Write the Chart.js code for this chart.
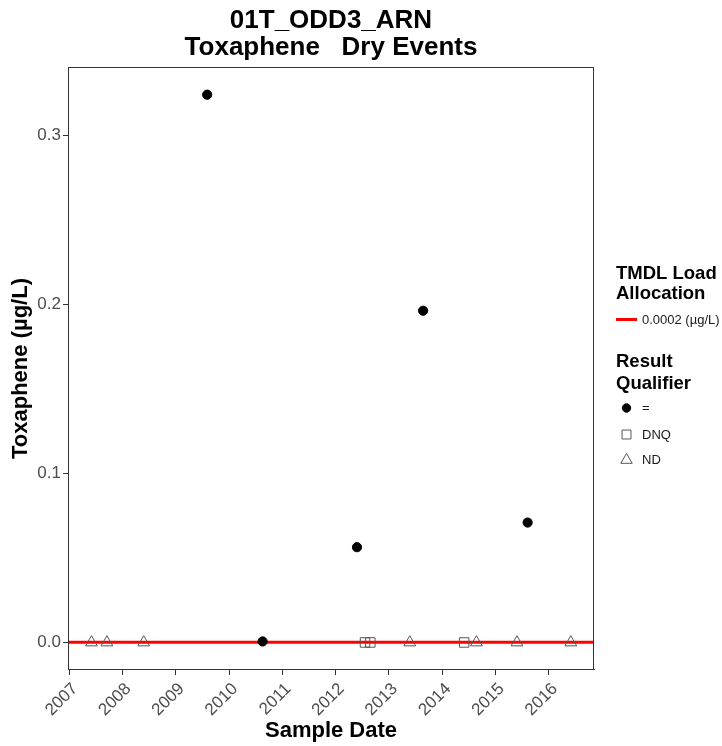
<!DOCTYPE html>
<html>
<head>
<meta charset="utf-8">
<script src="https://cdn.jsdelivr.net/npm/chart.js@4.4.1/dist/chart.umd.min.js"></script>
<style>
  html, body { margin: 0; padding: 0; background: #ffffff; }
  canvas { display: block; }
</style>
</head>
<body>
<canvas id="c" width="722" height="746"></canvas>
<script>
// ---- data ----
const titleLines = ["01T_ODD3_ARN", "Toxaphene   Dry Events"];
const xTitle = "Sample Date";
const yTitle = "Toxaphene (\u00b5g/L)";

const xTicks = [2007, 2008, 2009, 2010, 2011, 2012, 2013, 2014, 2015, 2016];
const yTicks = [0.0, 0.1, 0.2, 0.3];

// Result qualifier "=" (detected)
const eqDates  = [2009.59, 2010.63, 2012.40, 2013.64, 2015.60];
const eqValues = [0.3243, 0.0006, 0.0564, 0.1964, 0.0710];
// "DNQ"
const dnqDates  = [2012.55, 2012.65, 2014.41];
const dnqValues = [0, 0, 0];
// "ND"
const ndDates  = [2007.42, 2007.71, 2008.40, 2013.39, 2014.64, 2015.40, 2016.41];
const ndValues = [0, 0, 0, 0, 0, 0, 0];

const tmdlValue = 0.0002;
const tmdlLabel = "0.0002 (\u00b5g/L)";
const legend1Title = ["TMDL Load", "Allocation"];
const legend2Title = ["Result", "Qualifier"];
const qualifierLabels = ["=", "DNQ", "ND"];

const xMin = 2006.98, xMax = 2016.845;
const yMin = -0.0163, yMax = 0.3407;

// ---- build ----
const FONT = "'Liberation Sans', Arial, sans-serif";
const pts = (xs, ys) => xs.map((x, i) => ({ x: x, y: ys[i] }));

const styles = [
  { pointStyle: 'circle',   radius: 4.6, bg: '#000000', border: '#000000', bw: 1 },
  { pointStyle: 'rect',     radius: 6.7, bg: 'rgba(0,0,0,0)', border: '#555555', bw: 1 },
  { pointStyle: 'triangle', radius: 6.8, bg: 'rgba(0,0,0,0)', border: '#555555', bw: 1 }
];

const pointSets = [pts(eqDates, eqValues), pts(dnqDates, dnqValues), pts(ndDates, ndValues)];

const datasets = [{
  type: 'line',
  label: tmdlLabel,
  data: [{ x: xMin, y: tmdlValue }, { x: xMax, y: tmdlValue }],
  borderColor: '#ff0000',
  borderWidth: 3,
  pointRadius: 0,
  fill: false,
  order: 5
}];
pointSets.forEach((d, i) => {
  datasets.push({
    type: 'scatter',
    label: qualifierLabels[i],
    data: d,
    pointStyle: styles[i].pointStyle,
    pointRadius: styles[i].radius,
    pointBackgroundColor: styles[i].bg,
    pointBorderColor: styles[i].border,
    pointBorderWidth: styles[i].bw,
    order: 1
  });
});

const frameAndLegend = {
  id: 'frameAndLegend',
  afterDraw(chart) {
    const ctx = chart.ctx;
    const a = chart.chartArea;
    ctx.save();
    // panel border
    ctx.strokeStyle = '#333333';
    ctx.lineWidth = 1;
    ctx.strokeRect(Math.round(a.left) + 0.5, Math.round(a.top) + 0.5,
                   Math.round(a.right - a.left) - 1, Math.round(a.bottom - a.top) - 1);

    // legends
    const lx = 616;
    ctx.fillStyle = '#000000';
    ctx.textBaseline = 'middle';
    ctx.textAlign = 'left';
    ctx.font = "bold 18.5px " + FONT;
    ctx.fillText(legend1Title[0], lx, 274);
    ctx.fillText(legend1Title[1], lx, 294);

    ctx.strokeStyle = '#ff0000';
    ctx.lineWidth = 3;
    ctx.beginPath();
    ctx.moveTo(616, 319.5);
    ctx.lineTo(637, 319.5);
    ctx.stroke();
    ctx.fillStyle = '#1a1a1a';
    ctx.font = "13px " + FONT;
    ctx.fillText(tmdlLabel, 642, 320);

    ctx.fillStyle = '#000000';
    ctx.font = "bold 18.5px " + FONT;
    ctx.fillText(legend2Title[0], lx, 362);
    ctx.fillText(legend2Title[1], lx, 384);

    const ys = [408, 434.5, 460];
    const legendSizes = [4.2, 6.3, 6.6];
    for (let i = 0; i < 3; i++) {
      ctx.fillStyle = styles[i].bg;
      ctx.strokeStyle = styles[i].border;
      ctx.lineWidth = styles[i].bw;
      Chart.helpers.drawPoint(ctx, {
        pointStyle: styles[i].pointStyle,
        radius: legendSizes[i],
        rotation: 0,
        borderWidth: styles[i].bw
      }, 626.5, ys[i]);
      ctx.fillStyle = '#1a1a1a';
      ctx.font = "13px " + FONT;
      ctx.fillText(qualifierLabels[i], 642, ys[i] + 0.5);
    }
    ctx.restore();
  }
};

new Chart(document.getElementById('c'), {
  type: 'scatter',
  data: { datasets: datasets },
  options: {
    responsive: false,
    animation: false,
    events: [],
    layout: { padding: { left: 0, right: 128, top: 0, bottom: 0 } },
    plugins: {
      legend: { display: false },
      tooltip: { enabled: false },
      title: {
        display: true,
        fullSize: false,
        text: titleLines,
        color: '#000000',
        font: { family: FONT, size: 26, weight: 'bold', lineHeight: 1.058 },
        padding: { top: 7, bottom: 5 }
      }
    },
    scales: {
      x: {
        type: 'linear',
        min: xMin,
        max: xMax,
        afterBuildTicks(scale) { scale.ticks = xTicks.map(v => ({ value: v })); },
        afterFit(scale) { scale.height = 76; },
        grid: { drawOnChartArea: false, drawTicks: true, tickLength: 5, color: '#333333' },
        border: { display: true, color: '#333333', width: 1 },
        ticks: {
          autoSkip: false,
          minRotation: 45,
          maxRotation: 45,
          padding: 4,
          labelOffset: 6,
          color: '#4d4d4d',
          font: { family: FONT, size: 17 },
          callback: (v) => String(v)
        },
        title: {
          display: true,
          text: xTitle,
          color: '#000000',
          font: { family: FONT, size: 22, weight: 'bold' },
          padding: { top: 0, bottom: 2 }
        }
      },
      y: {
        type: 'linear',
        min: yMin,
        max: yMax,
        afterBuildTicks(scale) { scale.ticks = yTicks.map(v => ({ value: v })); },
        afterFit(scale) { scale.width = 68; },
        grid: { drawOnChartArea: false, drawTicks: true, tickLength: 5, color: '#333333' },
        border: { display: true, color: '#333333', width: 1 },
        ticks: {
          padding: 2,
          color: '#4d4d4d',
          font: { family: FONT, size: 17 },
          callback: (v) => Number(v).toFixed(1)
        },
        title: {
          display: true,
          text: yTitle,
          color: '#000000',
          font: { family: FONT, size: 22, weight: 'bold' },
          padding: { top: 8, bottom: 0 }
        }
      }
    }
  },
  plugins: [frameAndLegend]
});
</script>
</body>
</html>
